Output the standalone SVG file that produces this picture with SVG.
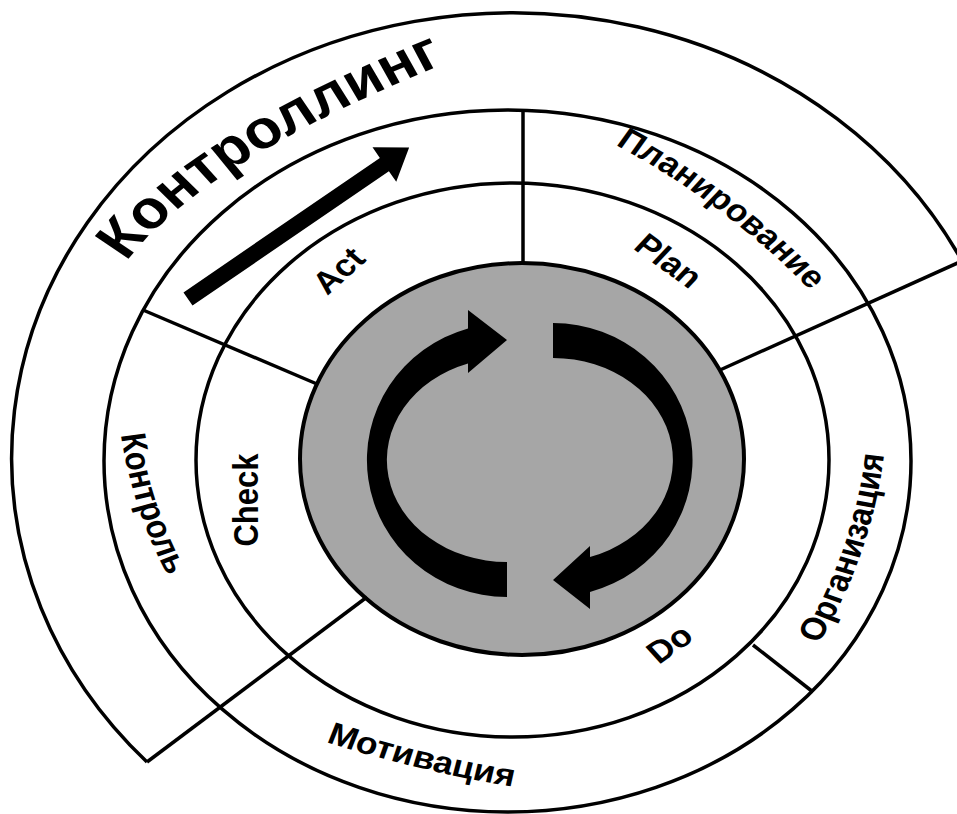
<svg xmlns="http://www.w3.org/2000/svg" width="957" height="814" viewBox="0 0 957 814">
<style>
.ln{fill:none;stroke:#000;stroke-width:3.5}
.t{font-family:"Liberation Sans",Arial,sans-serif;font-weight:bold;fill:#000}
.s{font-size:31px}
.big{font-size:54px}
.blk{fill:#000;stroke:none}
</style>
<defs>
<path id="pK" d="M90.3,292 L112.9,259 Q180.4,160.5 387.4,65 L423.7,48.2"/>
<path id="pP" d="M502.5,122.5 L536.8,143 Q635.5,202 713.2,293 L739.2,323.4"/>
<path id="pM" d="M245.7,727.2 L283.3,741 Q366.4,771.4 452.6,787 L492,794.1"/>
<path id="pO" d="M695.9,685.2 L714.9,650 Q765.3,556.7 776.3,448 L780.3,408.2"/>
<path id="pKt" d="M100.1,390.4 L105.3,430 Q115.6,509.4 149.1,580 L166.3,616.2"/>
</defs>
<rect width="957" height="814" fill="#fff"/>
<g id="core">
<ellipse cx="522" cy="459" rx="222" ry="196" fill="#a6a6a6" stroke="#000" stroke-width="4"/>
<path class="blk" d="M507,597 A140,137 0 0 1 468,328.4 L468,310 L507,340 L468,373 L468,363.5 A120,102 0 0 0 507,562 Z"/>
<path class="blk" d="M553,323 A140,137 0 0 1 590,592 L590,609 L553,580 L590,546 L590,557 A120,102 0 0 0 553,358 Z"/>
</g>
<g id="rings">
<ellipse class="ln" cx="512.5" cy="460" rx="316.5" ry="277"/>
<ellipse class="ln" cx="507.5" cy="461" rx="403.5" ry="351"/>
<path class="ln" d="M147,762 A501,445 0 1 1 962,261"/>
</g>
<g id="connectors">
<line class="ln" x1="523" y1="110" x2="523" y2="263"/>
<line class="ln" x1="962" y1="261" x2="720" y2="370"/>
<line class="ln" x1="143" y1="310" x2="317" y2="384"/>
<line class="ln" x1="147" y1="762" x2="367" y2="597"/>
<line class="ln" x1="753" y1="645" x2="813" y2="692"/>
</g>
<g id="controlling-arrow">
<polygon class="blk" transform="translate(188,299) rotate(-34.4)" points="0,-8 238,-8 238,-21 268,0 238,21 238,8 0,8"/>
</g>
<g class="t" transform="scale(1.14 1)">
<g id="controlling"><text class="big"><textPath href="#pK" startOffset="50%" text-anchor="middle">Контроллинг</textPath></text></g>
<g id="planirovanie"><text class="s"><textPath href="#pP" startOffset="50%" text-anchor="middle">Планирование</textPath></text></g>
<g id="motivaciya"><text class="s"><textPath href="#pM" startOffset="50%" text-anchor="middle">Мотивация</textPath></text></g>
<g id="organizaciya"><text class="s"><textPath href="#pO" startOffset="50%" text-anchor="middle">Организация</textPath></text></g>
<g id="kontrol"><text class="s"><textPath href="#pKt" startOffset="50%" text-anchor="middle">Контроль</textPath></text></g>
<g id="act"><text class="s" text-anchor="middle" transform="translate(304.6,278) rotate(-45.7)">Act</text></g>
<g id="plan"><text class="s" text-anchor="middle" transform="translate(579.8,269) rotate(39.4)">Plan</text></g>
<g id="do"><text class="s" text-anchor="middle" transform="translate(593.9,652) rotate(-38.6)">Do</text></g>
<g id="check"><text class="s" text-anchor="middle" transform="translate(226.3,500) rotate(-90)">Check</text></g>
</g>
</svg>
